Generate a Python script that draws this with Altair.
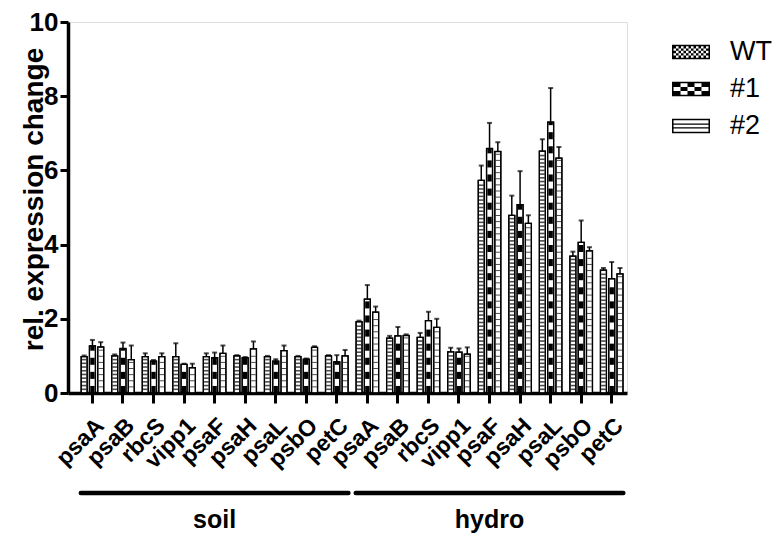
import altair as alt
import pandas as pd

# ---------------- data ----------------
genes = ["psaA", "psaB", "rbcS", "vipp1", "psaF", "psaH", "psaL", "psbO", "petC"]
conditions = ["soil", "hydro"]
series = ["WT", "#1", "#2"]

soil_wt = [0.98, 1.00, 0.98, 0.98, 0.98, 1.00, 0.98, 0.98, 1.00]
soil_wt_err = [0.03, 0.04, 0.09, 0.36, 0.09, 0.02, 0.02, 0.02, 0.02]
soil_l1 = [1.27, 1.20, 0.86, 0.77, 0.95, 0.95, 0.86, 0.91, 0.84]
soil_l1_err = [0.16, 0.16, 0.03, 0.02, 0.14, 0.02, 0.05, 0.02, 0.18]
soil_l2 = [1.24, 0.90, 0.98, 0.68, 1.07, 1.19, 1.14, 1.23, 1.00]
soil_l2_err = [0.13, 0.38, 0.09, 0.11, 0.21, 0.20, 0.14, 0.03, 0.16]

hydro_wt = [1.92, 1.48, 1.50, 1.11, 5.73, 4.79, 6.52, 3.69, 3.31]
hydro_wt_err = [0.03, 0.06, 0.12, 0.11, 0.40, 0.53, 0.32, 0.12, 0.06]
hydro_l1 = [2.53, 1.54, 1.95, 1.10, 6.59, 5.08, 7.30, 4.06, 3.08]
hydro_l1_err = [0.38, 0.24, 0.24, 0.10, 0.69, 0.90, 0.92, 0.59, 0.45]
hydro_l2 = [2.18, 1.55, 1.77, 1.05, 6.51, 4.57, 6.33, 3.83, 3.21]
hydro_l2_err = [0.15, 0.03, 0.23, 0.18, 0.25, 0.22, 0.30, 0.10, 0.16]

y_ticks = [0, 2, 4, 6, 8, 10]

# ---------------- tables built from the lists above ----------------
FONT = "Liberation Sans"
table = {
    ("soil", "WT"): (soil_wt, soil_wt_err),
    ("soil", "#1"): (soil_l1, soil_l1_err),
    ("soil", "#2"): (soil_l2, soil_l2_err),
    ("hydro", "WT"): (hydro_wt, hydro_wt_err),
    ("hydro", "#1"): (hydro_l1, hydro_l1_err),
    ("hydro", "#2"): (hydro_l2, hydro_l2_err),
}
keys = [f"{c}|{g}" for c in conditions for g in genes]

records = []
for c in conditions:
    for s in series:
        vals, errs = table[(c, s)]
        for g, v, e in zip(genes, vals, errs):
            records.append({"key": f"{c}|{g}", "series": s, "value": v, "top": v + e})
df = pd.DataFrame(records)

# fill patterns (hatching) derived from each bar's value
rung_pitch = {"WT": 0.10, "#2": 0.165}
rungs = []
blocks = []
for r in records:
    if r["series"] in rung_pitch:
        p = rung_pitch[r["series"]]
        k = 1
        while k * p < r["value"] - 0.04:
            rungs.append({"key": r["key"], "series": r["series"], "y": k * p})
            k += 1
    else:
        p, h = 0.38, 0.19
        k = 0
        while k * p < r["value"] - 0.05:
            blocks.append({"key": r["key"], "series": r["series"],
                           "y0": k * p, "y1": min(k * p + h, r["value"])})
            k += 1
rung_df = pd.DataFrame(rungs)
block_df = pd.DataFrame(blocks)

groups = pd.DataFrame([
    {"cond": c, "first": f"{c}|{genes[0]}", "last": f"{c}|{genes[-1]}",
     "mid": f"{c}|{genes[len(genes) // 2]}"} for c in conditions
])

# legend swatch paths (unit box, -1..1)
def rect_cw(x0, y0, x1, y1):
    return f"M{x0:.3f},{y0:.3f}H{x1:.3f}V{y1:.3f}H{x0:.3f}Z"

def rect_ccw(x0, y0, x1, y1):
    return f"M{x0:.3f},{y0:.3f}V{y1:.3f}H{x1:.3f}V{y0:.3f}Z"

HW, HH, B = 1.0, 0.385, 0.08
frame = rect_cw(-HW, -HH, HW, HH) + rect_ccw(-HW + B, -HH + B, HW - B, HH - B)

def checker(nx, ny):
    x0, y0 = -HW + B, -HH + B
    w = (2 * (HW - B)) / nx
    h = (2 * (HH - B)) / ny
    out = ""
    for i in range(nx):
        for j in range(ny):
            if (i + j) % 2 == 0:
                out += rect_cw(x0 + i * w, y0 + j * h, x0 + (i + 1) * w, y0 + (j + 1) * h)
    return out

def stripes(n):
    y0 = -HH + B
    h = (2 * (HH - B)) / n
    t = 0.06
    out = ""
    for j in range(1, n):
        yc = y0 + j * h
        out += rect_cw(-HW + B, yc - t / 2, HW - B, yc + t / 2)
    return out

legend_paths = [frame + checker(14, 5), frame + checker(5, 3), frame + stripes(3)]

# ---------------- encodings ----------------
xscale = alt.Scale(domain=keys, paddingInner=0, paddingOuter=0.15, align=1)
yscale = alt.Scale(domain=[0, 10], nice=False)
xaxis = alt.Axis(
    title=None, labelExpr="split(datum.value, '|')[1]", labelAngle=-45,
    labelAlign="right", labelBaseline="top", labelFont=FONT, labelFontSize=23,
    labelFontWeight="bold", labelColor="black", labelPadding=11, labelOverlap=False,
    labelBound=False, domainColor="black", domainWidth=3.5, tickColor="black",
    tickWidth=3, tickSize=10, grid=False,
)
yaxis = alt.Axis(
    title="rel. expression change", values=y_ticks, grid=False,
    domainColor="black", domainWidth=3.5, tickColor="black", tickWidth=3, tickSize=8,
    labelFont=FONT, labelFontSize=26, labelFontWeight="bold", labelColor="black",
    labelPadding=2, titleFont=FONT, titleFontSize=28, titleFontWeight="bold",
    titleColor="black", titleX=-34, titleY=177, titleAngle=270, titleAlign="center",
    titleBaseline="middle",
)
xoff = alt.XOffset("series:N", scale=alt.Scale(domain=series, paddingInner=0.277, paddingOuter=0.482))

def X(field="key"):
    return alt.X(f"{field}:N", scale=xscale, axis=xaxis)

def Y(field):
    return alt.Y(f"{field}:Q", scale=yscale, axis=yaxis)

base = alt.Chart(df)

bars = base.mark_bar(fill="white", stroke="black", strokeWidth=1.2).encode(
    x=X(), xOffset=xoff, y=Y("value"))

wt_rungs = alt.Chart(rung_df).transform_filter("datum.series == 'WT'").mark_tick(
    color="black", thickness=1.6, size=4.6).encode(x=X(), xOffset=xoff, y=Y("y"))

l2_rungs = alt.Chart(rung_df).transform_filter("datum.series == '#2'").mark_tick(
    color="black", thickness=1.0, size=4.6).encode(x=X(), xOffset=xoff, y=Y("y"))

l1_blocks = alt.Chart(block_df).mark_bar(color="black", width=4.4).encode(
    x=X(), xOffset=xoff, y=Y("y0"), y2="y1")

outline = base.mark_bar(fillOpacity=0, stroke="black", strokeWidth=1.3).encode(
    x=X(), xOffset=xoff, y=Y("value"))

err_rule = base.mark_rule(color="black", strokeWidth=1.5).encode(
    x=X(), xOffset=xoff, y=Y("value"), y2="top")

err_cap = base.mark_tick(color="black", thickness=2, size=5).encode(
    x=X(), xOffset=xoff, y=Y("top"))

group_rule = alt.Chart(groups).mark_rule(color="black", strokeWidth=4.5, strokeCap="round").encode(
    x=alt.X("first:N", scale=xscale, axis=xaxis, bandPosition=0.12),
    x2=alt.X2("last", bandPosition=0.88),
    y=alt.value(471),
)

group_text = alt.Chart(groups).mark_text(
    font=FONT, fontSize=25, fontWeight="bold", color="black", align="center",
    baseline="alphabetic").encode(
    x=alt.X("mid:N", scale=xscale, axis=xaxis), y=alt.value(506), text="cond:N")

legend_layer = base.transform_filter("false").mark_point(
    filled=True, color="black", size=1444, opacity=1).encode(
    shape=alt.Shape("series:N", scale=alt.Scale(domain=series, range=legend_paths),
                    legend=alt.Legend(orient="none", legendX=604, legendY=11, title=None,
                                      symbolSize=1444, symbolStrokeWidth=0,
                                      symbolFillColor="black", symbolOpacity=1,
                                      labelFont=FONT, labelFontSize=27, labelColor="black",
                                      labelOffset=20, rowPadding=5, padding=0)))

chart = alt.layer(
    bars, wt_rungs, l2_rungs, l1_blocks, outline, err_rule, err_cap,
    group_rule, group_text, legend_layer,
).properties(
    width=559, height=371,
    autosize=alt.AutoSizeParams(type="none"),
    padding={"left": 60, "top": 14, "right": 148, "bottom": 141},
).configure_view(stroke=None).configure(background="white")

chart.save("out.html", embed_options={"renderer": "svg", "actions": False})
